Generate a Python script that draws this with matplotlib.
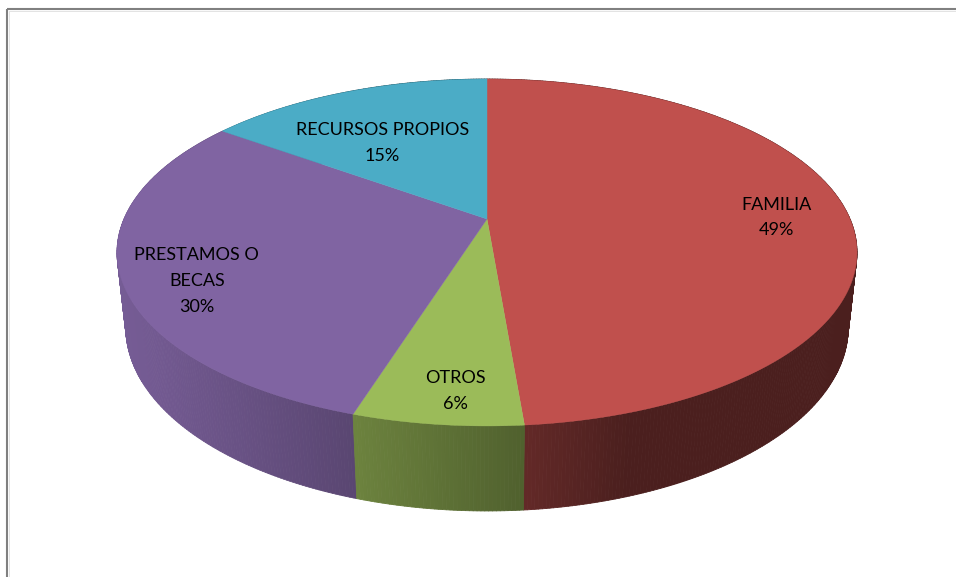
import numpy as np
import matplotlib
matplotlib.use("Agg")
import matplotlib.pyplot as plt
from matplotlib.collections import PolyCollection
from matplotlib.colors import to_rgb
from matplotlib.patches import Polygon, Rectangle

# data (clockwise from 12 o'clock)
categories = ["FAMILIA", "OTROS", "PRESTAMOS O\nBECAS", "RECURSOS PROPIOS"]
counts = [55, 7, 34, 17]
slice_colors = ["#C0504D", "#9BBB59", "#8064A2", "#4BACC6"]
label_nudge = [(8, 4), (5, 20), (-8, 19), (9, 26)]   # px, from r=0.78 anchor

# 3D view (pixel space)
CX, CY = 487, 219
FOCAL, DIST = 1670.0, 4.6
TILT = np.arcsin(0.46)
THICK = 0.234


def project(xw, zw, yw=0.0):
    yc = yw * np.cos(TILT) + zw * np.sin(TILT)
    zc = DIST + zw * np.cos(TILT) - yw * np.sin(TILT)
    return CX + FOCAL * xw / zc, CY - FOCAL * yc / zc


def shade(phi):
    # light from the left / front
    return 0.39 + np.maximum(0, -0.5 * np.sin(phi) - 0.167 * np.cos(phi))


fig = plt.figure(figsize=(9.56, 5.77), dpi=100)
ax = fig.add_axes([0, 0, 1, 1])
ax.set_xlim(0, 956)
ax.set_ylim(577, 0)
ax.axis("off")

total = float(sum(counts))
bounds = np.concatenate([[0], np.cumsum(counts)]) / total * 2 * np.pi

# --- side walls ---
quads, qcols, qdepth = [], [], []
for i, col in enumerate(slice_colors):
    base = np.array(to_rgb(col))
    n = max(int((bounds[i + 1] - bounds[i]) / np.radians(0.5)), 2)
    phis = np.linspace(bounds[i], bounds[i + 1], n + 1)
    tx, ty = project(np.sin(phis), np.cos(phis))
    bx, by = project(np.sin(phis), np.cos(phis), -THICK)
    for k in range(n):
        quads.append([(tx[k], ty[k]), (tx[k + 1], ty[k + 1]),
                      (bx[k + 1], by[k + 1]), (bx[k], by[k])])
        mid = 0.5 * (phis[k] + phis[k + 1])
        qcols.append(np.clip(base * shade(mid), 0, 1))
        qdepth.append(np.cos(mid))
order = np.argsort(qdepth)[::-1]
walls = PolyCollection([quads[j] for j in order],
                       facecolors=[qcols[j] for j in order],
                       edgecolors=[qcols[j] for j in order], linewidths=0.6)
ax.add_collection(walls)

# --- top faces ---
for i, col in enumerate(slice_colors):
    phis = np.linspace(bounds[i], bounds[i + 1], 200)
    tx, ty = project(np.sin(phis), np.cos(phis))
    pts = np.column_stack([np.r_[CX, tx], np.r_[CY, ty]])
    ax.add_patch(Polygon(pts, closed=True, fc=col, ec=col, lw=0.3))

# --- labels ---
for i, (cat, val) in enumerate(zip(categories, counts)):
    mid = 0.5 * (bounds[i] + bounds[i + 1])
    lx, ly = project(0.78 * np.sin(mid), 0.78 * np.cos(mid))
    dx, dy = label_nudge[i]
    ax.text(lx + dx, ly + dy, f"{cat}\n{val / total:.0%}", ha="center",
            va="center", multialignment="center", fontsize=13,
            family=["Lato", "DejaVu Sans"], color="black", linespacing=1.75)

# chart frame (right/bottom edges fall outside the picture)
ax.add_patch(Rectangle((7.5, 8.5), 1200, 1200, fill=False, ec="#808080", lw=1.5))
ax.add_patch(Rectangle((9.5, 10.5), 1200, 1200, fill=False, ec="#e3e3e3", lw=0.7))

fig.savefig("out.png", dpi=100)
